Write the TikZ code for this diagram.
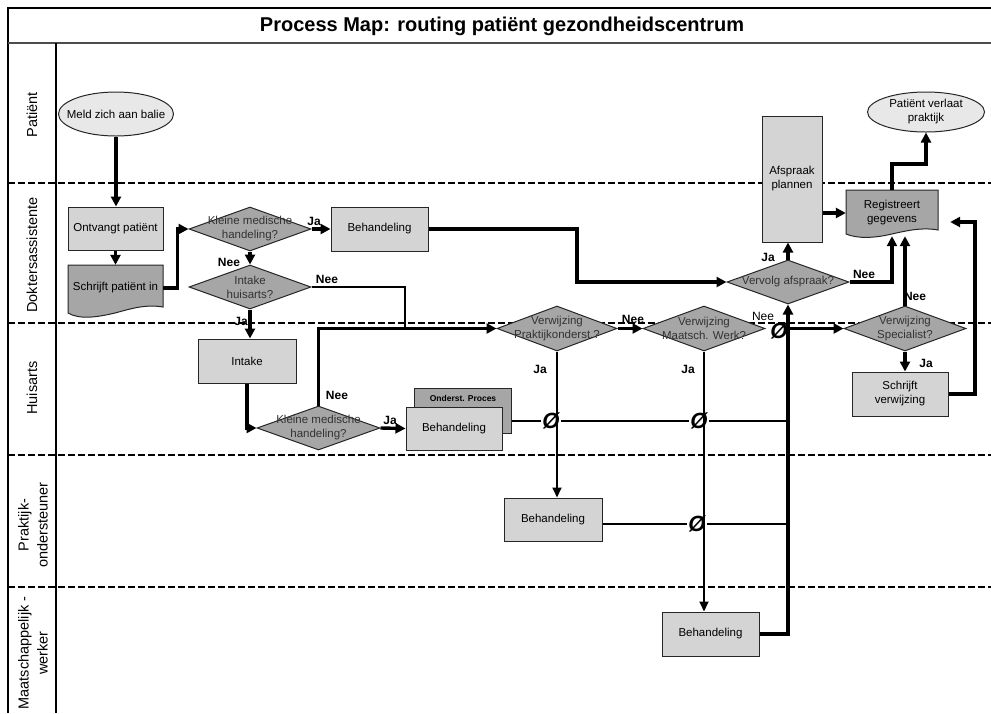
\documentclass[tikz,border=0pt]{standalone}
\usepackage{fontspec}
\setmainfont{Liberation Sans}
\usetikzlibrary{shapes.geometric,arrows.meta,calc}
\definecolor{procfill}{RGB}{212,212,212}
\definecolor{darkfill}{RGB}{166,166,166}
\definecolor{ellfill}{RGB}{232,232,232}
\begin{document}
\begin{tikzpicture}[x=1pt,y=-1pt,
  nodefont/.style={font=\fontsize{11.5}{14}\selectfont},
  proc/.style={rectangle, draw=black!85, line width=1pt, fill=procfill, align=center, inner sep=1pt, nodefont},
  dec/.style={diamond, draw=black!85, line width=1pt, fill=darkfill, inner sep=0pt},
  dectxt/.style={align=center, nodefont, inner sep=0pt, text=black!80},
  ell/.style={ellipse, draw=black!85, line width=1pt, fill=ellfill, inner sep=0pt},
  doctxt/.style={align=center, nodefont, inner sep=0pt},
  thickarr/.style={line width=3.4pt, -{Triangle[length=10pt,width=10pt]}},
  thinarr/.style={line width=1.8pt, -{Triangle[length=10pt,width=9pt]}},
  thinln/.style={line width=1.8pt},
  lbl/.style={font=\fontsize{12}{14}\selectfont\bfseries, inner sep=0pt},
  lbllight/.style={font=\fontsize{12}{14}\selectfont, inner sep=0pt},
  lane/.style={line width=1.8pt, dash pattern=on 6.5pt off 3.5pt},
  lanetxt/.style={rotate=90, align=center, font=\fontsize{14.5}{19}\selectfont},
  crossing/.style={font=\fontsize{22}{22}\selectfont\bfseries\itshape, inner sep=1pt},
]
\useasboundingbox (0,0) rectangle (991,713);

% frame and lanes
\draw[lane] (8,183) -- (991,183);
\draw[lane] (8,323) -- (991,323);
\draw[lane] (8,455) -- (991,455);
\draw[lane] (8,587) -- (991,587);
\draw[line width=1.4pt] (8,713) -- (8,8) -- (991,8);
\draw[line width=1.4pt, black!70] (8,43) -- (991,43);
\draw[line width=1.2pt] (56,43) -- (56,713);

\node[font=\fontsize{20}{22}\selectfont\bfseries] (title) at (502,26) {Process Map: routing patiënt gezondheidscentrum};

\node[lanetxt] (lp) at (32,115) {Patiënt};
\node[lanetxt] (ld) at (32,255) {Doktersassistente};
\node[lanetxt] (lh) at (32,388) {Huisarts};
\node[lanetxt] (lpo) at (33,525) {Praktijk-\\ondersteuner};
\node[lanetxt] (lm) at (33,653) {Maatschappelijk -\\werker};

% document shapes
\draw[draw=black!85, line width=1pt, fill=darkfill] (68,265) -- (163,265) -- (163,307)
  .. controls (145,304) and (130,309) .. (115,313) .. controls (98,317) and (80,320) .. (68,313) -- cycle;
\node[doctxt, minimum width=95pt, minimum height=46pt] (schr) at (115.5,288) {Schrijft patiënt in};
\draw[draw=black!85, line width=1pt, fill=darkfill] (846,190) -- (938,190) -- (938,230)
  .. controls (922,227) and (905,231) .. (892,234) .. controls (875,238) and (858,239) .. (846,234) -- cycle;
\node[doctxt, minimum width=92pt, minimum height=46pt] (reg) at (892,213) {Registreert\\gegevens};

% ellipses
\node[ell, minimum width=115pt, minimum height=44pt] (meld) at (116,114) {};
\node[doctxt] (meldt) at (meld) {Meld zich aan balie};
\node[ell, minimum width=117pt, minimum height=40pt] (pv) at (926,112) {};
\node[doctxt] (pvt) at (pv) {Patiënt verlaat\\praktijk};

% processes
\node[proc, minimum width=95pt, minimum height=43pt] (ont) at (115.5,228.5) {Ontvangt patiënt};
\node[proc, minimum width=97pt, minimum height=44pt] (beh1) at (379.5,229) {Behandeling};
\node[proc, minimum width=98pt, minimum height=44pt] (intake) at (247,361) {Intake};
\node[rectangle, draw=black!85, line width=1pt, fill=darkfill, minimum width=97pt, minimum height=45pt] (ond) at (462.5,410.5) {};
\node[font=\fontsize{8.5}{9}\selectfont\bfseries, inner sep=0pt] (ondt) at (463,398) {Onderst. Proces};
\node[proc, minimum width=96pt, minimum height=43pt] (beh2) at (454,428.5) {Behandeling};
\node[proc, minimum width=60pt, minimum height=126pt] (afs) at (792,179) {Afspraak\\plannen};
\node[proc, minimum width=96pt, minimum height=44pt] (sv) at (900,394) {Schrijft\\verwijzing};
\node[proc, minimum width=98pt, minimum height=43pt] (bpo) at (553,519.5) {Behandeling};
\node[proc, minimum width=97pt, minimum height=44pt] (bmw) at (710.5,634) {Behandeling};

% decisions
\node[dec, minimum width=122pt, minimum height=44pt] (d1) at (250,229) {};
\node[dectxt] (d1t) at (d1) {Kleine medische\\handeling?};
\node[dec, minimum width=122pt, minimum height=44pt] (d2) at (250,287) {};
\node[dectxt] (d2t) at (d2) {Intake\\huisarts?};
\node[dec, minimum width=123pt, minimum height=44pt] (d3) at (318.5,428) {};
\node[dectxt] (d3t) at (d3) {Kleine medische\\handeling?};
\node[dec, minimum width=120pt, minimum height=45pt] (vp) at (557,328.5) {};
\node[dectxt] (vpt) at (vp) {Verwijzing\\Praktijkonderst.?};
\node[dec, minimum width=122pt, minimum height=45pt] (mw) at (704,328.5) {};
\node[dectxt] (mwt) at (mw) {Verwijzing\\Maatsch. Werk?};
\node[dec, minimum width=122pt, minimum height=45pt] (sp) at (905,328.5) {};
\node[dectxt] (spt) at (sp) {Verwijzing\\Specialist?};
\node[dec, minimum width=122pt, minimum height=44pt] (vv) at (788,282) {};
\node[dectxt] (vvt) at (vv) {Vervolg afspraak?};

% crossing marks
\node[crossing] (xa) at (551,421) {Ø};
\node[crossing] (xb) at (699,421) {Ø};
\node[crossing] (xc) at (697,524) {Ø};
\node[crossing] (xm) at (779,331) {Ø};

\coordinate (j1) at (405,328);
\coordinate (k1) at (577,250);
\coordinate (k3) at (975,300);

% connectors
\draw[thickarr] (meld.south) -- (meld.south |- ont.north);
\draw[thickarr] (ont.south) -- (ont.south |- schr.north);
\draw[thickarr] (schr.east) -- ++(14,0) |- (d1.west);
\draw[thickarr] (d1.east) -- (beh1.west);
\draw[thickarr] (d1.south) -- (d2.north);
\draw[thinln] (d2.east) -| (j1);
\draw[thickarr] (d2.south) -- (d2.south |- intake.north);
\draw[thickarr] (intake.south) |- (d3.west);
\draw[thickarr] (d3.north) |- (vp.west);
\draw[thickarr] (d3.east) -- (beh2.west);
\draw[thickarr] (beh1.east) -| (k1) |- (vv.west);
\draw[thinln] (ond.east |- xa.west) -- (xa.west);
\draw[thinln] (xa.east) -- (xb.west);
\draw[thinln] (xb.east) -- (xb.east -| vv.south);
\draw[thinarr] (vp.south) -- (vp.south |- bpo.north);
\draw[thickarr] (vp.east) -- (mw.west);
\draw[thinarr] (mw.south) -- (mw.south |- bmw.north);
\draw[thinln] (bpo.east |- xc.west) -- (xc.west);
\draw[thinln] (xc.east) -- (xc.east -| vv.south);
\draw[thickarr] (xm.east |- sp.west) -- (sp.west);
\draw[thickarr] (bmw.east) -| (vv.south);
\draw[thickarr] (vv.north) -- (vv.north |- afs.south);
\draw[thickarr] (vv.east) -| (reg.south);
\draw[thickarr] (afs.east |- reg.west) -- (reg.west);
\draw[thickarr] (sp.north) -- (sp.north |- reg.south);
\draw[thickarr] (sp.south) -- (sp.south |- sv.north);
\draw[thickarr, shorten >=12pt] (sv.east) -| (k3) |- ([yshift=-9pt]reg.east);
\draw[thickarr] (reg.north) -- ++(0,-26) -| (pv.south);

% labels
\node[lbl] (l1) at (314,221) {Ja};
\node[lbl] (l2) at (229,262) {Nee};
\node[lbl] (l3) at (327,279) {Nee};
\node[lbl] (l4) at (241,321) {Ja};
\node[lbl] (l5) at (337,395) {Nee};
\node[lbl] (l6) at (390,420) {Ja};
\node[lbl] (l7) at (540,369) {Ja};
\node[lbl] (l8) at (633,319) {Nee};
\node[lbl] (l9) at (688,369) {Ja};
\node[lbllight] (l10) at (763,316) {Nee};
\node[lbl] (l11) at (768,257) {Ja};
\node[lbl] (l12) at (864,274) {Nee};
\node[lbl] (l13) at (915,296) {Nee};
\node[lbl] (l14) at (926,363) {Ja};
\end{tikzpicture}
\end{document}
